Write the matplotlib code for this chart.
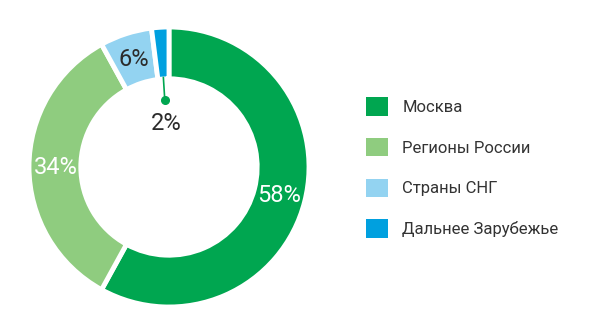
import numpy as np
import matplotlib
matplotlib.use("Agg")
from matplotlib import pyplot as plt
from matplotlib.patches import Patch

# доли по регионам
regions = ["Москва", "Регионы России", "Страны СНГ", "Дальнее Зарубежье"]
shares = [58, 34, 6, 2]
colors = ["#00a650", "#8fcc7f", "#93d3f1", "#00a0df"]
label_colors = ["white", "white", "#2b2b2b", "#2b2b2b"]

plt.rcParams['font.family'] = ['Roboto', 'DejaVu Sans']

fig = plt.figure(figsize=(6, 3.27), dpi=100)
ax = fig.add_axes([29/600, 20/327, 280/600, 280/327])

wedges, texts = ax.pie(shares, colors=colors, startangle=90, counterclock=False,
                       radius=1, wedgeprops=dict(width=0.37, edgecolor='white', linewidth=3.5))

# подписи процентов
for w, s, c in zip(wedges, shares, label_colors):
    ang = np.deg2rad((w.theta1 + w.theta2) / 2)
    if s == 2:
        # выноска для маленького сектора
        r0, r1 = 0.64, 0.48
        ax.plot([r0*np.cos(ang), r1*np.cos(ang)], [r0*np.sin(ang), r1*np.sin(ang)],
                color='#00a650', lw=1.2)
        ax.plot(r1*np.cos(ang), r1*np.sin(ang), 'o', color='#00a650', ms=5.5)
        ax.text(-0.02, 0.31, f"{s}%", ha='center', va='center', fontsize=17, color=c)
    else:
        r = 0.81
        ax.text(r*np.cos(ang), r*np.sin(ang), f"{s}%", ha='center', va='center',
                fontsize=17, color=c)

ax.set_xlim(-1.0, 1.0)
ax.set_ylim(-1.0, 1.0)
ax.set_aspect('equal')
ax.axis('off')

handles = [Patch(facecolor=c, edgecolor='none') for c in colors]
fig.legend(handles, regions, loc='center left', bbox_to_anchor=(366/600, 0.488),
           frameon=False, fontsize=12, handlelength=1.32, handleheight=1.32,
           labelspacing=1.34, handletextpad=0.85, borderpad=0, borderaxespad=0,
           labelcolor='#333333')

plt.savefig('out.png', dpi=100)
